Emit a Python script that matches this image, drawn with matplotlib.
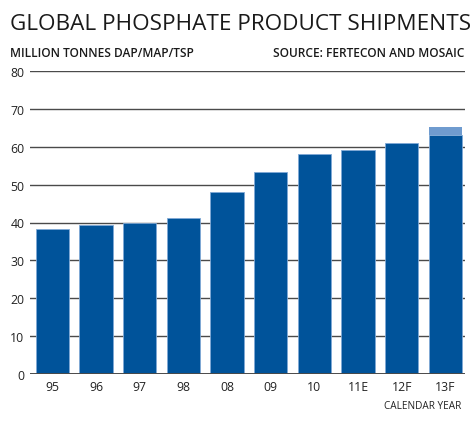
import matplotlib
matplotlib.use('Agg')
import matplotlib.pyplot as plt

years = ['95', '96', '97', '98', '08', '09', '10', '11E', '12F', '13F']
shipments = [38.4, 39.4, 40.0, 41.1, 48.1, 53.3, 58.1, 59.2, 61.1, 63.2]
upside = [0, 0, 0, 0, 0, 0, 0, 0, 0, 2.1]
yticks = [0, 10, 20, 30, 40, 50, 60, 70, 80]

dark = '#00539a'
light = '#6f9bcf'
plt.rcParams['font.family'] = ['Open Sans', 'DejaVu Sans']

fig = plt.figure(figsize=(4.76, 4.27), dpi=100)
ax = fig.add_axes([30/476, 1 - 375/427, 435/476, (375 - 72)/427])

x = range(len(years))
ax.bar(x, shipments, width=0.76, color=dark, edgecolor='#7fa9d6', linewidth=0.6, zorder=3)
ax.bar(x, upside, bottom=shipments, width=0.76, color=light, linewidth=0, zorder=3)

ax.set_ylim(0, 80)
ax.set_xlim(-0.51, 9.45)
ax.set_yticks(yticks)
ax.set_xticks(list(x))
ax.set_xticklabels(years)
for t in yticks[1:]:
    ax.axhline(t, color='#4a4a4a', lw=1.0, zorder=1)
ax.axhline(0, color='#4a4a4a', lw=1.4, zorder=4)
for s in ax.spines.values():
    s.set_visible(False)
ax.tick_params(length=0, labelsize=8.8, colors='#222222')
ax.tick_params(axis='y', pad=4)
ax.tick_params(axis='x', pad=4)

fig.text(10/476, 1 - 30/427, 'GLOBAL PHOSPHATE PRODUCT SHIPMENTS', fontsize=16.2,
         color='#1a1a1a', ha='left', va='baseline')
fig.text(10/476, 1 - 57/427, 'MILLION TONNES DAP/MAP/TSP', fontsize=8.6,
         fontweight='semibold', color='#1a1a1a', ha='left', va='baseline')
fig.text(464/476, 1 - 57/427, 'SOURCE: FERTECON AND MOSAIC', fontsize=8.6,
         fontweight='semibold', color='#1a1a1a', ha='right', va='baseline')
fig.text(461/476, 1 - 409/427, 'CALENDAR YEAR', fontsize=7.2, color='#222222',
         ha='right', va='baseline')

fig.savefig('out.png', dpi=100)
